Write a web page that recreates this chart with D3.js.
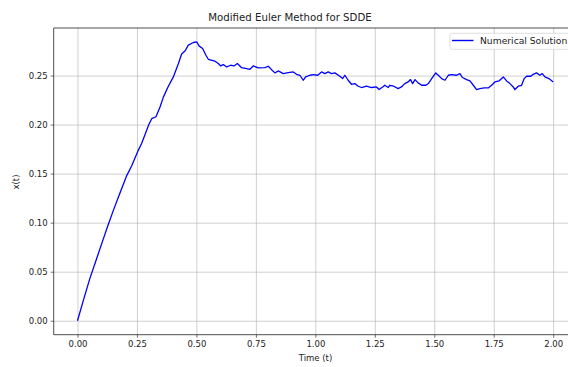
<!DOCTYPE html>
<html><head><meta charset="utf-8">
<script src="https://cdn.jsdelivr.net/npm/d3@7"></script>
<style>body{margin:0;background:#fff;} svg{display:block;font-family:"DejaVu Sans",sans-serif;}</style>
</head><body>
<svg id="c" width="568" height="367"></svg>
<script>
const titleText = "Modified Euler Method for SDDE";
const xLabel = "Time (t)";
const yLabel = "x(t)";
const seriesName = "Numerical Solution";
const xTicks = [0, 0.25, 0.5, 0.75, 1.0, 1.25, 1.5, 1.75, 2.0];
const yTicks = [0, 0.05, 0.10, 0.15, 0.20, 0.25];
const tValues = [0,0.025,0.0525,0.08,0.108,0.125,0.15,0.175,0.207,0.228,0.24,0.256,0.27,0.284,0.30,0.312,0.33,0.347,0.361,0.38,0.403,0.424,0.438,0.452,0.466,0.487,0.501,0.512,0.526,0.54,0.55,0.578,0.592,0.602,0.613,0.627,0.644,0.658,0.672,0.69,0.711,0.725,0.739,0.76,0.788,0.802,0.816,0.83,0.844,0.865,0.886,0.907,0.921,0.935,0.949,0.959,0.977,0.991,1.01,1.026,1.04,1.054,1.068,1.082,1.103,1.115,1.124,1.138,1.152,1.166,1.18,1.194,1.215,1.236,1.257,1.268,1.283,1.292,1.306,1.313,1.33,1.348,1.362,1.376,1.39,1.40,1.409,1.419,1.432,1.447,1.465,1.475,1.489,1.506,1.517,1.531,1.545,1.559,1.573,1.594,1.608,1.618,1.636,1.65,1.664,1.678,1.692,1.71,1.727,1.741,1.755,1.772,1.79,1.804,1.818,1.832,1.839,1.853,1.867,1.878,1.888,1.906,1.916,1.93,1.944,1.954,1.965,1.982,2.0];
const xValues = [0,0.021,0.0435,0.063,0.083,0.095,0.112,0.128,0.148,0.158,0.165,0.174,0.181,0.190,0.200,0.206,0.208,0.218,0.228,0.238,0.2486,0.262,0.272,0.275,0.281,0.2837,0.2843,0.280,0.2776,0.2707,0.2666,0.2646,0.2622,0.2598,0.2612,0.2588,0.2605,0.2598,0.2622,0.258,0.257,0.2564,0.2598,0.2578,0.258,0.2595,0.256,0.2527,0.2547,0.252,0.253,0.2537,0.2513,0.2503,0.2452,0.2486,0.2503,0.251,0.2503,0.2537,0.252,0.2537,0.252,0.2527,0.2493,0.247,0.2503,0.2452,0.2411,0.2418,0.2391,0.2378,0.2391,0.2378,0.2384,0.2357,0.2384,0.2401,0.2378,0.2401,0.2391,0.2367,0.2384,0.2418,0.2435,0.2459,0.2418,0.2459,0.2425,0.2401,0.2401,0.2418,0.2469,0.2527,0.2503,0.2469,0.2452,0.2503,0.251,0.2503,0.252,0.248,0.2459,0.2445,0.2401,0.2357,0.2367,0.2374,0.2374,0.2401,0.2435,0.2445,0.2486,0.2445,0.2418,0.2384,0.2357,0.2391,0.2401,0.2469,0.2493,0.2493,0.2513,0.2527,0.2503,0.252,0.2486,0.2469,0.2435];

const svg = d3.select("#c");
const L = 53.7, R = 577, T = 28, B = 334.7;
const x = d3.scaleLinear().domain([-0.1, 2.1]).range([L, R]);
const y = d3.scaleLinear().domain([-0.01422, 0.29848]).range([B, T]);
const fmt = d3.format(".2f");

// grid
const gx = svg.append("g").attr("transform", `translate(0,${B})`)
  .call(d3.axisBottom(x).tickValues(xTicks).tickSize(-(B - T)).tickFormat(""));
const gy = svg.append("g").attr("transform", `translate(${L},0)`)
  .call(d3.axisLeft(y).tickValues(yTicks).tickSize(-(R - L)).tickFormat(""));
[gx, gy].forEach(g => { g.select(".domain").remove(); g.selectAll("line").attr("stroke", "#b0b0b0").attr("stroke-opacity", 0.75).attr("stroke-width", 0.8); });

// line
const line = d3.line().x((d, i) => x(tValues[i])).y(d => y(d));
svg.append("path").datum(xValues).attr("d", line).attr("fill", "none")
  .attr("stroke", "#0000ff").attr("stroke-width", 1.3).attr("stroke-linejoin", "round");

// axes
const ax = svg.append("g").attr("transform", `translate(0,${B})`)
  .call(d3.axisBottom(x).tickValues(xTicks).tickSize(3).tickPadding(3).tickFormat(fmt));
const ay = svg.append("g").attr("transform", `translate(${L},0)`)
  .call(d3.axisLeft(y).tickValues(yTicks).tickSize(3).tickPadding(3).tickFormat(fmt));
[ax, ay].forEach(g => {
  g.select(".domain").remove();
  g.selectAll("line").attr("stroke", "#333").attr("stroke-width", 0.7);
  g.selectAll("text").attr("font-size", 8.5).attr("fill", "#222").attr("font-family", "DejaVu Sans");
});
// spines
svg.append("line").attr("x1", L).attr("x2", L).attr("y1", T).attr("y2", B).attr("stroke", "#222").attr("stroke-width", 0.8);
svg.append("line").attr("x1", L).attr("x2", R).attr("y1", B).attr("y2", B).attr("stroke", "#222").attr("stroke-width", 0.8);
svg.append("line").attr("x1", L).attr("x2", R).attr("y1", T).attr("y2", T).attr("stroke", "#222").attr("stroke-width", 0.8);

// labels
svg.append("text").attr("x", 290).attr("y", 21).attr("text-anchor", "middle")
  .attr("font-size", 10.2).attr("fill", "#222").text(titleText);
svg.append("text").attr("x", 315.5).attr("y", 361).attr("text-anchor", "middle")
  .attr("font-size", 8.5).attr("fill", "#222").text(xLabel);
svg.append("text").attr("transform", "translate(19,182) rotate(-90)").attr("text-anchor", "middle")
  .attr("font-size", 8.5).attr("fill", "#222").text(yLabel);

// legend
const lg = svg.append("g");
lg.append("rect").attr("x", 450).attr("y", 33.3).attr("width", 130).attr("height", 16)
  .attr("rx", 2).attr("fill", "#fff").attr("fill-opacity", 0.8).attr("stroke", "#d8d8d8").attr("stroke-width", 0.8);
lg.append("line").attr("x1", 452).attr("x2", 473.5).attr("y1", 40.5).attr("y2", 40.5)
  .attr("stroke", "#0000ff").attr("stroke-width", 1.4);
lg.append("text").attr("x", 480).attr("y", 44).attr("font-size", 9.2).attr("fill", "#222").text(seriesName);
</script>
</body></html>
